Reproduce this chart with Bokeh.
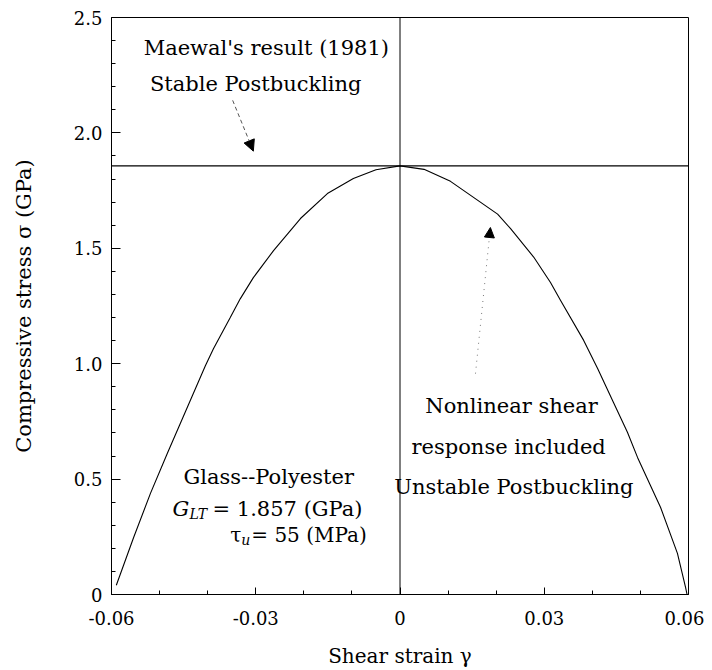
from bokeh.plotting import figure
from bokeh.models import FixedTicker, Arrow, NormalHead, Span
from bokeh.core.properties import value
from bokeh.embed import file_html
from bokeh.resources import INLINE

# ---------------- data ----------------
curve_x = [-0.0590, -0.0554, -0.0519, -0.0484, -0.0405, -0.0388, -0.0353, -0.0332,
           -0.0305, -0.0263, -0.0207, -0.0151, -0.0097, -0.0050, 0.0,
           0.0050, 0.0105, 0.0203, 0.0230, 0.0278, 0.0313, 0.0334, 0.0382,
           0.0411, 0.0444, 0.0473, 0.0494, 0.0542, 0.0577, 0.0594, 0.0597]
curve_y = [0.040, 0.247, 0.438, 0.611, 0.990, 1.065, 1.200, 1.282,
           1.373, 1.490, 1.629, 1.737, 1.802, 1.840, 1.857,
           1.842, 1.790, 1.648, 1.585, 1.462, 1.352, 1.274, 1.101,
           0.979, 0.832, 0.703, 0.594, 0.377, 0.178, 0.030, 0.0]

maewal_level = 1.857        # stable postbuckling stress (GPa)
zero_strain = 0.0

x_ticks = [-0.06, -0.03, 0.0, 0.03, 0.06]
x_tick_labels = ["-0.06", "-0.03", "0", "0.03", "0.06"]
x_minor_ticks = [-0.05, -0.04, -0.02, -0.01, 0.01, 0.02, 0.04, 0.05]
y_ticks = [0.0, 0.5, 1.0, 1.5, 2.0, 2.5]
y_tick_labels = ["0", "0.5", "1.0", "1.5", "2.0", "2.5"]
y_minor_ticks = [0.1, 0.2, 0.3, 0.4, 0.6, 0.7, 0.8, 0.9, 1.1, 1.2, 1.3, 1.4,
                 1.6, 1.7, 1.8, 1.9, 2.1, 2.2, 2.3, 2.4]

ann_text = ["Maewal's result (1981)", "Stable Postbuckling",
            "Nonlinear shear", "response included", "Unstable Postbuckling",
            "Glass--Polyester"]
ann_x = [-0.0278, -0.0300, 0.0232, 0.0226, 0.0237, -0.0273]
ann_y = [2.366, 2.214, 0.815, 0.641, 0.464, 0.507]

glt_anchor = (-0.0473, 0.370)
tau_anchor = (-0.0353, 0.256)

arrow1 = (-0.0348, 2.141, -0.0305, 1.921)
arrow2 = (0.0157, 0.957, 0.0188, 1.590)

FONT = "DejaVu Serif"

p = figure(width=704, height=670, x_range=(-0.06, 0.06), y_range=(0, 2.5),
           output_backend="svg", toolbar_location=None,
           min_border_left=111, min_border_right=16, min_border_top=17,
           min_border_bottom=76)
p.background_fill_color = "white"
p.border_fill_color = "white"
p.outline_line_color = "black"
p.outline_line_width = 1
p.xgrid.visible = False
p.ygrid.visible = False

for ax, ticks, minors, labels in ((p.xaxis[0], x_ticks, x_minor_ticks, x_tick_labels),
                                  (p.yaxis[0], y_ticks, y_minor_ticks, y_tick_labels)):
    ax.ticker = FixedTicker(ticks=ticks, minor_ticks=minors)
    ax.major_label_overrides = dict(zip(ticks, labels))
    ax.major_tick_out = 0
    ax.minor_tick_out = 0
    ax.minor_tick_in = 4
    ax.axis_line_color = "black"
    ax.major_tick_line_color = "black"
    ax.minor_tick_line_color = "black"
    ax.major_label_text_font = FONT
    ax.major_label_text_font_size = "18px"
    ax.major_label_text_color = "black"
    ax.axis_label_text_font = FONT
    ax.axis_label_text_font_style = "normal"
    ax.axis_label_text_color = "black"

p.xaxis.axis_label_text_font_size = "20px"
p.yaxis.axis_label_text_font_size = "21px"
p.xaxis.major_tick_in = 7
p.yaxis.major_tick_in = 9
p.xaxis.axis_label = "Shear strain \u03b3"
p.yaxis.axis_label = "Compressive stress \u03c3 (GPa)"
p.xaxis.major_label_standoff = 16
p.xaxis.axis_label_standoff = 16
p.yaxis.major_label_standoff = 9
p.yaxis.axis_label_standoff = 35

p.add_layout(Span(location=maewal_level, dimension="width", line_color="black", line_width=1.1))
p.add_layout(Span(location=zero_strain, dimension="height", line_color="black", line_width=1))

p.line(curve_x, curve_y, line_color="black", line_width=1.1)

p.add_layout(Arrow(x_start=arrow1[0], y_start=arrow1[1], x_end=arrow1[2], y_end=arrow1[3],
                   line_color="#555555", line_width=1, line_dash="4 3",
                   end=NormalHead(size=11, fill_color="black", line_color="black")))
p.add_layout(Arrow(x_start=arrow2[0], y_start=arrow2[1], x_end=arrow2[2], y_end=arrow2[3],
                   line_color="#777777", line_width=1, line_dash="1 5",
                   end=NormalHead(size=10, fill_color="black", line_color="black")))

p.text(x=ann_x, y=ann_y, text=ann_text, text_font=value(FONT), text_font_size="21px",
       text_align="center", text_baseline="alphabetic", text_color="black")

# G_LT = 1.857 (GPa)
p.text(x=[glt_anchor[0]], y=[glt_anchor[1]], text=["G"], text_font=value(FONT),
       text_font_size="21px", text_font_style="italic", text_align="left",
       text_baseline="alphabetic", text_color="black")
p.text(x=[glt_anchor[0]], y=[glt_anchor[1]], text=["LT"], text_font=value(FONT),
       text_font_size="14px", text_font_style="italic", text_align="left",
       text_baseline="alphabetic", text_color="black", x_offset=17, y_offset=5)
p.text(x=[glt_anchor[0]], y=[glt_anchor[1]], text=["= 1.857 (GPa)"], text_font=value(FONT),
       text_font_size="21px", text_align="left", text_baseline="alphabetic",
       text_color="black", x_offset=40)

# tau_u = 55 (MPa)
p.text(x=[tau_anchor[0]], y=[tau_anchor[1]], text=["\u03c4"], text_font=value(FONT),
       text_font_size="20px", text_align="left", text_baseline="alphabetic", text_color="black")
p.text(x=[tau_anchor[0]], y=[tau_anchor[1]], text=["u"], text_font=value(FONT),
       text_font_size="14px", text_font_style="italic", text_align="left",
       text_baseline="alphabetic", text_color="black", x_offset=11, y_offset=5)
p.text(x=[tau_anchor[0]], y=[tau_anchor[1]], text=["= 55 (MPa)"], text_font=value(FONT),
       text_font_size="20px", text_align="left", text_baseline="alphabetic",
       text_color="black", x_offset=21)

open("out.html", "w").write(file_html(p, INLINE))
